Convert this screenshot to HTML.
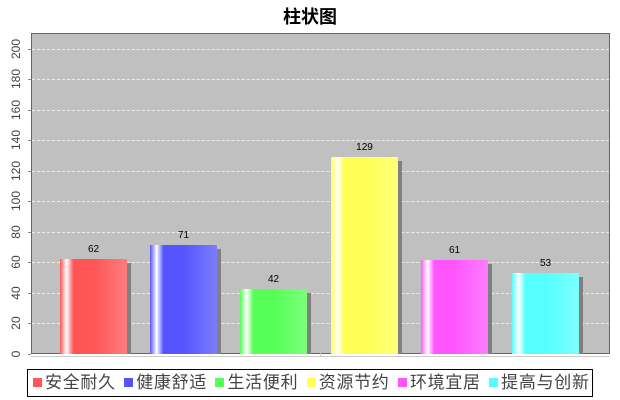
<!DOCTYPE html>
<html><head><meta charset="utf-8"><style>
body{margin:0;background:#fff;width:620px;height:400px;overflow:hidden;font-family:"Liberation Sans","Noto Sans CJK SC",sans-serif;position:relative}
.t{position:absolute;left:0;width:620px;top:3px;text-align:center;font-weight:bold;font-size:18px}
.plot{position:absolute;left:31px;top:33px;width:579px;height:321px;background:#c0c0c0;border:1px solid #666;box-sizing:border-box}
.g{position:absolute;left:32px;width:577px;height:0;border-top:1px dashed #eee}
.yl{position:absolute;left:6px;width:20px;font-size:12px;color:#444;transform:rotate(-90deg);text-align:center;line-height:20px}
.bar{position:absolute;width:67px}
.sh{position:absolute;width:67px;background:#808080}
.v{position:absolute;width:67px;text-align:center;font-size:10px}
.leg{position:absolute;left:27px;top:369px;width:566px;height:28px;border:1px solid #000;box-sizing:border-box;font-size:17px;line-height:26px;white-space:nowrap;padding-left:2px;color:#444;letter-spacing:0.7px;font-family:"Liberation Sans","WenQuanYi Zen Hei",sans-serif}
.sq{display:inline-block;width:9px;height:9px;margin:0 3px 0 3px;vertical-align:1px}
</style></head><body>
<div class="t">柱状图</div>
<div class="plot"></div>
<div id="c"></div>
<div style="position:absolute;left:31px;top:356px;width:578px;height:1px;background:#ccc"></div>
<div style="position:absolute;left:320px;top:353px;width:1px;height:4px;background:#ccc"></div>
<div class="leg"><span class="sq" style="background:#ff5555"></span>安全耐久 <span class="sq" style="background:#5555ff"></span>健康舒适 <span class="sq" style="background:#55ff55"></span>生活便利 <span class="sq" style="background:#ffff55"></span>资源节约 <span class="sq" style="background:#ff55ff"></span>环境宜居 <span class="sq" style="background:#55ffff"></span>提高与创新</div>
<script>
var c=document.getElementById('c'),h='';
var z=353.5,k=1.525;
for(var v=0;v<=200;v+=20){var y=z-v*k;
 if(v>0)h+='<div class="g" style="top:'+Math.round(y)+'px"></div>';
 h+='<div class="yl" style="top:'+(y-10)+'px">'+v+'</div>';
 h+='<div style="position:absolute;left:28px;top:'+Math.round(y)+'px;width:3px;height:1px;background:#888"></div>';}
var d=[[62,'255,85,85','255,125,125'],[71,'85,85,255','125,125,255'],[42,'85,255,85','125,255,125'],[129,'255,255,85','255,255,125'],[61,'255,85,255','255,125,255'],[53,'85,255,255','125,255,255']];
var xs=[60,150,240,331,421,512];
d.forEach(function(b,i){var top=Math.round(z-b[0]*k),x=xs[i],hh=Math.round(z-top),col='rgb('+b[1]+')',l='rgb('+b[2]+')';
 h+='<div class="sh" style="left:'+(x+4)+'px;top:'+(top+4)+'px;height:'+(hh-4)+'px"></div>';
 h+='<div class="bar" style="left:'+x+'px;top:'+top+'px;height:'+hh+'px;background:linear-gradient(to right,'+col+' 0%,#fff 10%,'+col+' 20%,'+col+' 50%,'+l+' 100%)"></div>';
 h+='<div class="v" style="left:'+x+'px;top:'+(top-15)+'px">'+b[0]+'</div>';});
c.innerHTML=h;
</script>
</body></html>
